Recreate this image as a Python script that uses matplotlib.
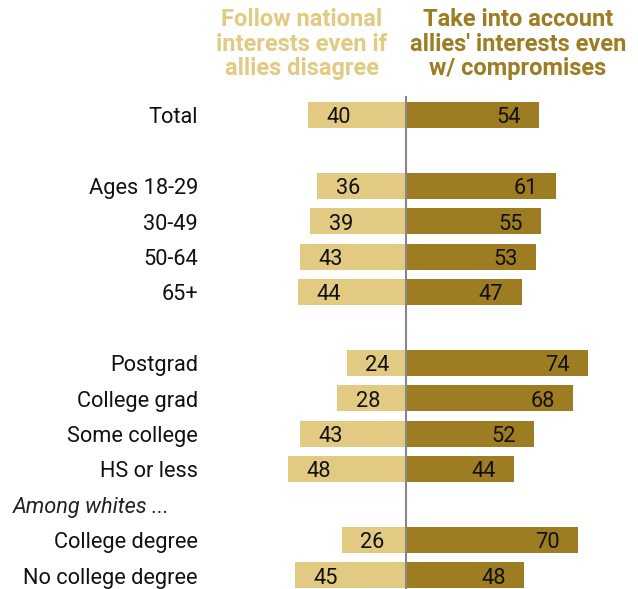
import matplotlib.pyplot as plt
import numpy as np

# groups as shown, None = spacer row
labels = ['Total', None, 'Ages 18-29', '30-49', '50-64', '65+', None,
          'Postgrad', 'College grad', 'Some college', 'HS or less',
          'Among whites ...', 'College degree', 'No college degree']
national = [40, None, 36, 39, 43, 44, None, 24, 28, 43, 48, None, 26, 45]
allies = [54, None, 61, 55, 53, 47, None, 74, 68, 52, 44, None, 70, 48]

light = '#E2CA82'
dark = '#9E7C22'

plt.rcParams['font.family'] = ['Roboto', 'DejaVu Sans']

fig = plt.figure(figsize=(6.38, 5.89), dpi=100)
ax = fig.add_axes([0, 0, 1, 1])

px = 2.46  # pixels per percentage point
ax.set_xlim(-406 / px, (638 - 406) / px)
row = 35.4
ax.set_ylim((589 - 115) / row, -115 / row)
ax.axis('off')

fs = 15.7
dy = 0.08  # nudge text down a touch
for i, lab in enumerate(labels):
    if lab is None:
        continue
    if lab.startswith('Among'):
        ax.text(-393 / px, i + dy, lab, ha='left', va='center', fontsize=fs,
                style='italic', color='#222222')
        continue
    ax.text(-208 / px, i + dy, lab, ha='right', va='center', fontsize=fs,
            color='#111111')
    n = national[i]
    a = allies[i]
    ax.barh(i, -n, height=0.74, color=light)
    ax.barh(i, a, height=0.74, color=dark)
    ax.text(-n + 7.5, i + dy, str(n), ha='left', va='center', fontsize=fs, color='#111111')
    ax.text(a - 7.5, i + dy, str(a), ha='right', va='center', fontsize=fs, color='#111111')

ax.plot([0, 0], [-0.5, 13.6], color='#888888', lw=1.5, clip_on=False)

ax.text(-104 / px, -2.0, 'Follow national\ninterests even if\nallies disagree',
        ha='center', va='center', fontsize=17, fontweight='bold', color=light,
        linespacing=1.08)
ax.text(112 / px, -2.0, 'Take into account\nallies\' interests even\nw/ compromises',
        ha='center', va='center', fontsize=17, fontweight='bold', color=dark,
        linespacing=1.08)

fig.savefig('out.png', dpi=100)
